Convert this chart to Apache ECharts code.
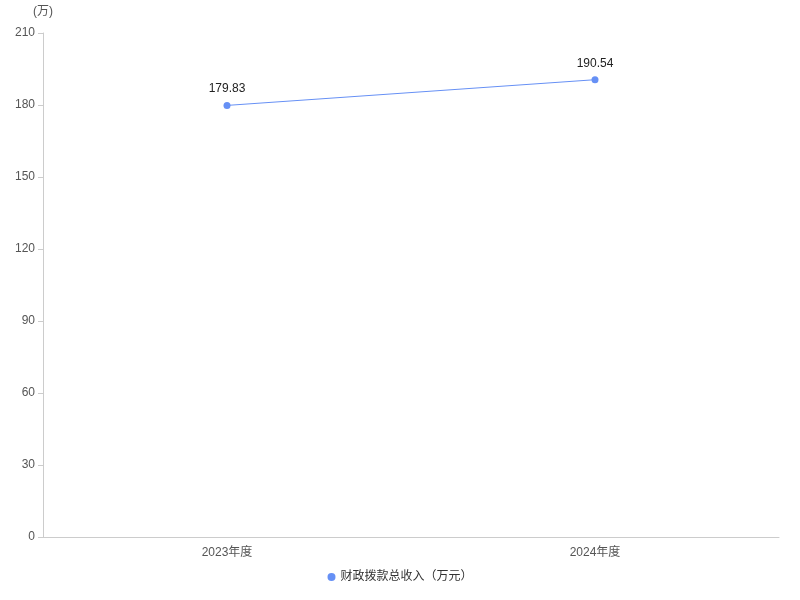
<!DOCTYPE html>
<html><head><meta charset="utf-8">
<script src="https://cdn.jsdelivr.net/npm/echarts@6/dist/echarts.min.js"></script>
<style>html,body{margin:0;padding:0;background:#fff}#c{width:800px;height:600px}</style>
</head><body><div id="c"></div>
<script>
const categories = ['2023年度', '2024年度'];
const seriesName = '财政拨款总收入（万元）';
const values = [179.83, 190.54];
const yTicks = { min: 0, max: 210, interval: 30 };

const FONT = "'Liberation Sans', Arial, 'Noto Sans CJK SC', sans-serif";
const chart = echarts.init(document.getElementById('c'));
chart.setOption({
  animation: false,
  textStyle: { fontFamily: FONT },
  grid: { left: 43, right: 21, top: 33, bottom: 63 },
  legend: {
    bottom: 12, left: 'center',
    icon: 'circle', itemWidth: 8, itemHeight: 8, itemGap: 10,
    textStyle: { color: '#333', fontSize: 12, fontFamily: FONT },
    data: [seriesName]
  },
  xAxis: {
    type: 'category', data: categories, boundaryGap: true,
    axisLine: { show: true, lineStyle: { color: '#ccc' } },
    axisTick: { show: false },
    axisLabel: { color: '#555', fontSize: 12, margin: 10, fontFamily: FONT }
  },
  yAxis: {
    type: 'value', min: yTicks.min, max: yTicks.max, interval: yTicks.interval,
    name: '(万)', nameLocation: 'end', nameGap: 15,
    nameTextStyle: { color: '#555', fontSize: 12, align: 'center', fontFamily: FONT },
    axisLine: { show: true, lineStyle: { color: '#ccc' } },
    axisTick: { show: true, length: 5, lineStyle: { color: '#ccc' } },
    axisLabel: { color: '#555', fontSize: 12, margin: 8, fontFamily: FONT },
    splitLine: { show: false }
  },
  series: [{
    name: seriesName, type: 'line', data: values,
    symbol: 'circle', symbolSize: 7,
    itemStyle: { color: '#6690F5' },
    lineStyle: { color: '#6690F5', width: 1 },
    label: { show: true, position: 'top', color: '#222', fontSize: 12, distance: 7, fontFamily: FONT }
  }]
});
</script></body></html>
